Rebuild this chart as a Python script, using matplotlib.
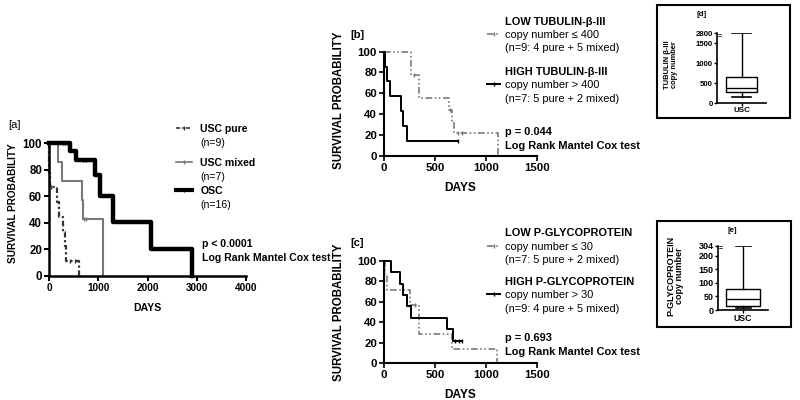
import numpy as np
import matplotlib.pyplot as plt
from matplotlib.lines import Line2D
from matplotlib.legend import Legend
from matplotlib.patches import Rectangle

plt.rcParams['font.family'] = ['Liberation Sans', 'DejaVu Sans']

# ---- [a] survival by histotype ----
a_pure_days = [0, 5, 10, 20, 155, 210, 290, 335, 345, 615]
a_pure_surv = [100, 88.9, 77.8, 66.7, 55.6, 44.4, 33.3, 22.2, 11.1, 0]
a_pure_cens_days = [35, 420, 520]
a_pure_cens_surv = [66.7, 11.1, 11.1]

a_mixed_days = [0, 176, 257, 662, 682, 1100]
a_mixed_surv = [100, 85.7, 71.4, 57.1, 42.9, 0]
a_mixed_cens_days = [710, 750]
a_mixed_cens_surv = [42.9, 42.9]

a_osc_days = [0, 435, 544, 932, 1040, 1300, 2068, 2905]
a_osc_surv = [100, 93.8, 87.5, 75.6, 60.5, 40.3, 20.2, 0]
a_osc_cens_days = [280, 330, 380, 700, 760]
a_osc_cens_surv = [100, 100, 100, 87.5, 87.5]

a_xticks = [0, 1000, 2000, 3000, 4000]
km_yticks = [0, 20, 40, 60, 80, 100]

# ---- [b] tubulin beta-III ----
b_low_days = [0, 265, 346, 635, 663, 688, 1120]
b_low_surv = [100, 77.8, 55.6, 44.4, 33.3, 22.2, 0]
b_low_cens_days = [290, 650, 725, 765]
b_low_cens_surv = [77.8, 44.4, 22.2, 22.2]

b_high_days = [0, 5, 33, 59, 163, 183, 222, 729]
b_high_surv = [100, 85.7, 71.4, 57.1, 42.9, 28.6, 14.3, 14.3]
b_high_cens_days = [729]
b_high_cens_surv = [14.3]

# ---- [c] P-glycoprotein ----
c_low_days = [0, 5, 26, 255, 343, 667, 1108]
c_low_surv = [100, 85.7, 71.4, 57.1, 28.6, 14.3, 0]
c_low_cens_days = [300]
c_low_cens_surv = [57.1]

c_high_days = [0, 65, 160, 183, 222, 262, 617, 677, 764]
c_high_surv = [100, 88.9, 77.8, 66.7, 55.6, 44.4, 33.3, 22.2, 22.2]
c_high_cens_days = [700, 735, 764]
c_high_cens_surv = [22.2, 22.2, 22.2]

bc_xticks = [0, 500, 1000, 1500]

# ---- [d] / [e] copy number boxplots (whislo, q1, med, q3, whishi) ----
d_box = [165, 290, 375, 658, 2800]
d_yticks = [0, 500, 1000, 1500, 2800]
e_box = [9, 15, 40, 77, 304]
e_yticks = [0, 50, 100, 150, 200, 304]

fig = plt.figure(figsize=(8, 4), dpi=100)


def fx(x):
    return x / 800


def fy(y):
    return 1 - y / 400


def km_axes(ax, xmax, xticks, xfs, yfs, lw):
    ax.set_xlim(0, xmax)
    ax.set_ylim(0, 100)
    for s in ['top', 'right']:
        ax.spines[s].set_visible(False)
    for s in ['left', 'bottom']:
        ax.spines[s].set_linewidth(lw)
    ax.set_xticks(xticks, labels=[str(t) for t in xticks], fontweight='bold', fontsize=xfs)
    ax.set_yticks(km_yticks, labels=[str(t) for t in km_yticks], fontweight='bold', fontsize=yfs)
    ax.tick_params(direction='out', length=3.5, width=lw * 0.8, pad=1.5)


def km_curve(ax, days, surv, cdays, csurv, color, ls, lw):
    ax.step(days, surv, where='post', color=color, linestyle=ls, linewidth=lw, clip_on=False)
    ax.plot(cdays, csurv, linestyle='none', marker='|', color=color, markersize=3.5,
            markeredgewidth=1, clip_on=False)


def legend_group(ax, rows, x, y, fs, hlen, hpad, spacing):
    # rows: (text, bold, handle)
    handles = [h if h is not None else Line2D([], [], linestyle='none') for _, _, h in rows]
    labels = [t for t, _, _ in rows]
    leg = Legend(ax, handles, labels, loc='upper left', bbox_to_anchor=(fx(x), fy(y)),
                 bbox_transform=fig.transFigure, frameon=False, borderpad=0,
                 borderaxespad=0, handlelength=hlen, handletextpad=hpad,
                 labelspacing=spacing, fontsize=fs, numpoints=1)
    for txt, (_, bold, _) in zip(leg.get_texts(), rows):
        if bold:
            txt.set_fontweight('bold')
    ax.add_artist(leg)


def key(color, ls, lw):
    return Line2D([], [], color=color, linestyle=ls, linewidth=lw, marker='|',
                  markersize=3.5, markeredgewidth=1)


pure_ls = (0, (2.5, 1.2, 1, 1.2))
gray_ls = (0, (4, 1.5, 1, 1.5, 1, 1.5))

# ================= panel a =================
ax_a = fig.add_axes([fx(49), fy(276), 197 / 800, 133 / 400])
km_curve(ax_a, a_pure_days, a_pure_surv, a_pure_cens_days, a_pure_cens_surv, '#333333', pure_ls, 1.6)
km_curve(ax_a, a_mixed_days, a_mixed_surv, a_mixed_cens_days, a_mixed_cens_surv, '#777777', '-', 1.5)
km_curve(ax_a, a_osc_days, a_osc_surv, a_osc_cens_days, a_osc_cens_surv, 'black', '-', 3.2)
km_axes(ax_a, 4000, a_xticks, 7.2, 8.3, 1.8)
ax_a.set_ylabel('SURVIVAL PROBABILITY', fontweight='bold', fontsize=7.2)
ax_a.yaxis.set_label_coords(-0.155, 0.545)
ax_a.set_xlabel('DAYS', fontweight='bold', fontsize=7.6)
ax_a.xaxis.set_label_coords(0.5, -0.2)
fig.text(fx(8), fy(125), '[a]', fontsize=8, va='center')
legend_group(ax_a, [('USC pure', True, key('#333333', pure_ls, 1.2)), ('(n=9)', False, None)],
             176, 124, 7.6, 1.5, 0.8, 0.4)
legend_group(ax_a, [('USC mixed', True, key('#777777', '-', 1.2)), ('(n=7)', False, None)],
             176, 158, 7.6, 1.5, 0.8, 0.4)
legend_group(ax_a, [('OSC', True, key('black', '-', 3)), ('(n=16)', False, None)],
             176, 185.7, 7.6, 1.5, 0.8, 0.4)
fig.text(fx(202), fy(244), 'p < 0.0001', fontsize=7.6, fontweight='bold', va='center')
fig.text(fx(202), fy(258), 'Log Rank Mantel Cox test', fontsize=7.6, fontweight='bold', va='center')

# ================= panel b =================
ax_b = fig.add_axes([fx(384), fy(155.7), 153 / 800, 104 / 400])
km_curve(ax_b, b_low_days, b_low_surv, b_low_cens_days, b_low_cens_surv, '#7a7a7a', gray_ls, 1.2)
km_curve(ax_b, b_high_days, b_high_surv, b_high_cens_days, b_high_cens_surv, 'black', '-', 1.4)
km_axes(ax_b, 1500, bc_xticks, 8.2, 8.2, 1.5)
ax_b.set_ylabel('SURVIVAL PROBABILITY', fontweight='bold', fontsize=8.3)
ax_b.yaxis.set_label_coords(-0.255, 0.53)
ax_b.set_xlabel('DAYS', fontweight='bold', fontsize=8.6)
ax_b.xaxis.set_label_coords(0.5, -0.25)
fig.text(fx(350), fy(35), '[b]', fontsize=8, fontweight='bold', va='center')
legend_group(ax_b, [('LOW TUBULIN-β-III', True, None),
                    ('copy number ≤ 400', False, key('#7a7a7a', gray_ls, 1.2)),
                    ('(n=9: 4 pure + 5 mixed)', False, None)],
             487, 16.7, 7.9, 1.2, 0.45, 0.3)
legend_group(ax_b, [('HIGH TUBULIN-β-III', True, None),
                    ('copy number > 400', False, key('black', '-', 1.4)),
                    ('(n=7: 5 pure + 2 mixed)', False, None)],
             487, 67, 7.9, 1.2, 0.45, 0.3)
fig.text(fx(505), fy(132), 'p = 0.044', fontsize=7.9, fontweight='bold', va='center')
fig.text(fx(505), fy(146), 'Log Rank Mantel Cox test', fontsize=7.9, fontweight='bold', va='center')

# ================= panel c =================
ax_c = fig.add_axes([fx(384), fy(363.3), 153 / 800, 102.3 / 400])
km_curve(ax_c, c_low_days, c_low_surv, c_low_cens_days, c_low_cens_surv, '#7a7a7a', gray_ls, 1.2)
km_curve(ax_c, c_high_days, c_high_surv, c_high_cens_days, c_high_cens_surv, 'black', '-', 1.4)
km_axes(ax_c, 1500, bc_xticks, 8.2, 8.2, 1.5)
ax_c.set_ylabel('SURVIVAL PROBABILITY', fontweight='bold', fontsize=8.3)
ax_c.yaxis.set_label_coords(-0.255, 0.5)
ax_c.set_xlabel('DAYS', fontweight='bold', fontsize=8.6)
ax_c.xaxis.set_label_coords(0.5, -0.25)
fig.text(fx(350), fy(243), '[c]', fontsize=8, fontweight='bold', va='center')
legend_group(ax_c, [('LOW P-GLYCOPROTEIN', True, None),
                    ('copy number ≤ 30', False, key('#7a7a7a', gray_ls, 1.2)),
                    ('(n=7: 5 pure + 2 mixed)', False, None)],
             487, 228.3, 7.9, 1.2, 0.45, 0.3)
legend_group(ax_c, [('HIGH P-GLYCOPROTEIN', True, None),
                    ('copy number > 30', False, key('black', '-', 1.4)),
                    ('(n=9: 4 pure + 5 mixed)', False, None)],
             487, 277, 7.9, 1.2, 0.45, 0.3)
fig.text(fx(505), fy(338), 'p = 0.693', fontsize=7.9, fontweight='bold', va='center')
fig.text(fx(505), fy(352), 'Log Rank Mantel Cox test', fontsize=7.9, fontweight='bold', va='center')


# ================= boxplots d / e =================
def broken(cut, k):
    def fwd(v):
        v = np.asarray(v, dtype=float)
        return np.where(v <= cut, v, cut + (v - cut) * k)

    def inv(v):
        v = np.asarray(v, dtype=float)
        return np.where(v <= cut, v, cut + (v - cut) / k)
    return fwd, inv


def box_axes(ax, box, yticks, cut, k, tfs, xfs, width, capw):
    wl, q1, med, q3, wh = box
    stats = [dict(whislo=wl, q1=q1, med=med, q3=q3, whishi=wh, label='USC')]
    ax.set_yscale('function', functions=broken(cut, k))
    ax.bxp(stats, positions=[1], widths=width, showfliers=False, patch_artist=True,
           capwidths=capw,
           boxprops=dict(facecolor='white', edgecolor='black', linewidth=1),
           medianprops=dict(color='black', linewidth=1),
           whiskerprops=dict(color='black', linewidth=1),
           capprops=dict(color='black', linewidth=1.2))
    ax.set_xlim(0.5, 1.5)
    ax.set_ylim(0, yticks[-1])
    for s in ['top', 'right']:
        ax.spines[s].set_visible(False)
    for s in ['left', 'bottom']:
        ax.spines[s].set_linewidth(1.2)
    ax.set_yticks(yticks, labels=[str(t) for t in yticks], fontweight='bold', fontsize=tfs)
    ax.set_xticks([1], labels=['USC'], fontweight='bold', fontsize=xfs)
    ax.tick_params(direction='out', length=2, width=1, pad=1)
    ax.yaxis.set_minor_locator(plt.NullLocator())
    ax.text(0.02, 0.965, '=', transform=ax.transAxes, fontsize=5, fontweight='bold',
            ha='left', va='center')


ax_d = fig.add_axes([fx(717), fy(103.3), 49 / 800, 70.3 / 400])
box_axes(ax_d, d_box, d_yticks, 1500, 0.2, 5.6, 5.8, 0.63, 0.37)
fig.text(fx(671), fy(65), 'TUBULIN β-III\ncopy number', rotation=90, fontsize=5.4,
         fontweight='bold', ha='center', va='center', linespacing=1.0)
fig.text(fx(702), fy(15), '[d]', fontsize=5.8, fontweight='bold', ha='center', va='center')
fig.add_artist(Rectangle((fx(657), fy(118)), 133 / 800, 113 / 400, fill=False,
                         linewidth=1.5, edgecolor='black', transform=fig.transFigure))

ax_e = fig.add_axes([fx(718), fy(310), 50 / 800, 64.3 / 400])
box_axes(ax_e, e_box, e_yticks, 200, 0.365, 6.5, 6.3, 0.68, 0.3)
fig.text(fx(675), fy(276), 'P-GLYCOPROTEIN\ncopy number', rotation=90, fontsize=6.5,
         fontweight='bold', ha='center', va='center', linespacing=0.95)
fig.text(fx(732), fy(231), '[e]', fontsize=5.8, fontweight='bold', ha='center', va='center')
fig.add_artist(Rectangle((fx(657), fy(327)), 134 / 800, 106 / 400, fill=False,
                         linewidth=1.5, edgecolor='black', transform=fig.transFigure))

fig.savefig('out.png', dpi=100, facecolor='white')
